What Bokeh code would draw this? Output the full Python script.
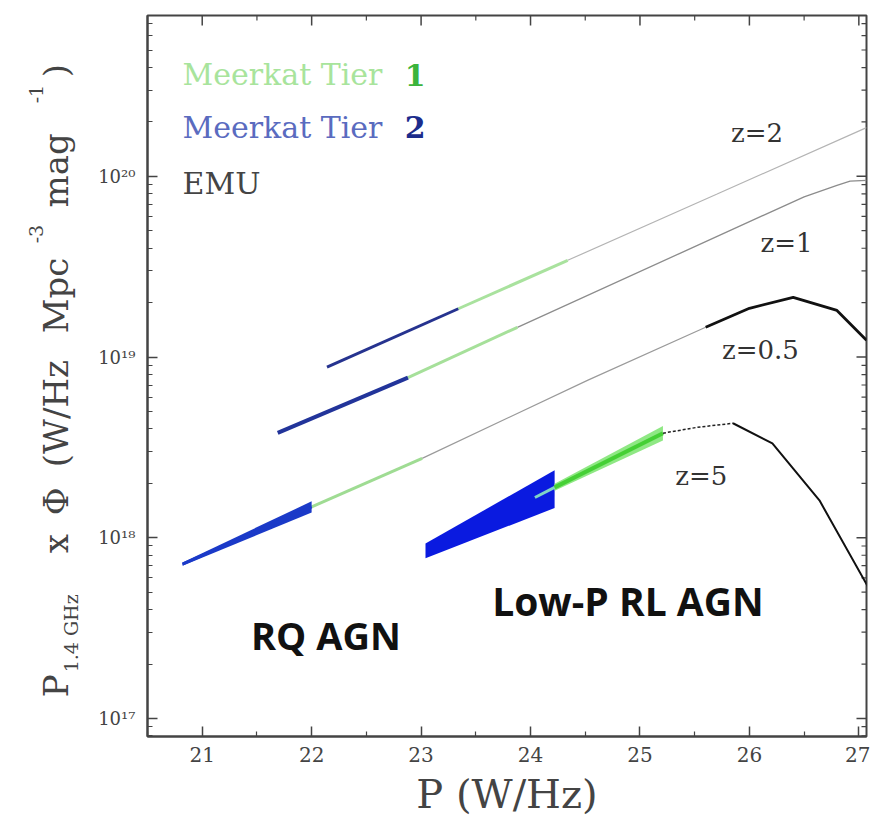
import numpy as np
from bokeh.plotting import figure
from bokeh.layouts import row
from bokeh.models import Range1d, FixedTicker, Label
from bokeh.core.properties import value
from bokeh.embed import file_html
from bokeh.resources import INLINE

# ---------------- data ----------------
x_ticks = [21, 22, 23, 24, 25, 26, 27]
x_tick_labels = ["21", "22", "23", "24", "25", "26", "27"]
y_ticks = [1e17, 1e18, 1e19, 1e20]
y_tick_labels = ["10\u00b9\u2077", "10\u00b9\u2078", "10\u00b9\u2079", "10\u00b2\u2070"]

# z = 2
z2_tier2_x = [22.14, 23.34]
z2_tier2_y = [8.8e18, 1.85e19]
z2_tier1_x = [23.34, 24.34]
z2_tier1_y = [1.85e19, 3.43e19]
z2_emu_x = [24.34, 25.7, 27.07]
z2_emu_y = [3.43e19, 7.96e19, 1.86e20]

# z = 1
z1_tier2_x = [21.69, 22.88]
z1_tier2_y = [3.8e18, 7.7e18]
z1_tier1_x = [22.88, 23.88]
z1_tier1_y = [7.7e18, 1.46e19]
z1_emu_x = [23.88, 25.37, 26.5, 26.8, 26.92, 27.07]
z1_emu_y = [1.46e19, 3.76e19, 7.7e19, 8.9e19, 9.4e19, 9.5e19]

# z = 0.5
z05_tier2_x = [20.82, 22.0]
z05_tier2_lo = [7.0e17, 1.38e18]
z05_tier2_hi = [7.3e17, 1.59e18]
z05_tier1_x = [22.0, 23.01]
z05_tier1_y = [1.48e18, 2.75e18]
z05_emu_x = [23.01, 24.52, 25.6]
z05_emu_y = [2.75e18, 7.43e18, 1.46e19]
z05_emu_dark_x = [25.6, 26.0, 26.4, 26.8, 27.07]
z05_emu_dark_y = [1.46e19, 1.86e19, 2.14e19, 1.81e19, 1.24e19]

# z = 5 (low-power RL AGN)
z5_tier2_x = [23.04, 24.22]
z5_tier2_lo = [7.7e17, 1.46e18]
z5_tier2_hi = [9.3e17, 2.36e18]
z5_overlap_x = [24.04, 24.22]
z5_overlap_y = [1.67e18, 1.90e18]
z5_tier1_x = [24.22, 25.21]
z5_tier1_y = [1.90e18, 3.79e18]
z5_tier1_lo = [1.82e18, 3.45e18]
z5_tier1_hi = [1.99e18, 4.15e18]
z5_emu_faint_x = [25.21, 25.52, 25.85]
z5_emu_faint_y = [3.79e18, 4.08e18, 4.30e18]
z5_emu_x = [25.85, 26.21, 26.64, 27.08]
z5_emu_y = [4.30e18, 3.33e18, 1.61e18, 5.4e17]

# y-axis title pieces (text, log10 position where the piece starts)
ytitle_main = ["P", "x", "\u03a6", "(W/Hz", "Mpc", "mag", ")"]
ytitle_main_at = [17.117, 17.914, 18.124, 18.39, 19.131, 19.828, 20.548]
ytitle_sub = ["1.4 GHz"]
ytitle_sub_at = [17.255]
ytitle_sup = ["-3", "-1"]
ytitle_sup_at = [19.629, 20.404]

# ---------------- figure ----------------
SERIF = "DejaVu Serif"
AX = "#444444"
X0, X1 = 20.5, 27.07
LY0, LY1 = 16.90, 20.89
FW, FH = 719, 721
LEFT_W = 85
TOP, BOTTOM = 15, 82

p = figure(x_range=Range1d(X0, X1), y_range=Range1d(10 ** LY0, 10 ** LY1),
           y_axis_type="log", frame_width=FW, frame_height=FH,
           min_border_left=147 - LEFT_W, min_border_right=4,
           min_border_top=TOP, min_border_bottom=BOTTOM,
           output_backend="svg", toolbar_location=None,
           background_fill_color="white", border_fill_color="white")
p.grid.visible = False
p.outline_line_color = AX
p.outline_line_width = 2

x_minor = [t - 0.5 for t in x_ticks] + [x_ticks[-1] + 0.5]
y_minor = [k * 10.0 ** e for e in range(16, 21) for k in range(2, 10)]


def style_axis(ax):
    ax.major_tick_in = 10
    ax.major_tick_out = 0
    ax.minor_tick_in = 5
    ax.minor_tick_out = 0
    ax.axis_line_color = AX
    ax.axis_line_width = 2
    ax.major_tick_line_color = AX
    ax.major_tick_line_width = 1.5
    ax.minor_tick_line_color = AX
    ax.minor_tick_line_width = 1.2
    ax.major_label_text_font = SERIF
    ax.major_label_text_color = "#444444"


xb = p.xaxis[0]
xb.ticker = FixedTicker(ticks=x_ticks, minor_ticks=x_minor)
xb.major_label_overrides = dict(zip(x_ticks, x_tick_labels))
style_axis(xb)
xb.major_label_text_font_size = "20px"
xb.major_label_standoff = 10
xb.axis_label = "P (W/Hz)"
xb.axis_label_text_font = SERIF
xb.axis_label_text_font_size = "40px"
xb.axis_label_text_font_style = "normal"
xb.axis_label_text_color = "#444444"
xb.axis_label_standoff = 6

yl = p.yaxis[0]
yl.ticker = FixedTicker(ticks=y_ticks, minor_ticks=y_minor)
yl.major_label_overrides = dict(zip(y_ticks, y_tick_labels))
style_axis(yl)
yl.major_label_text_font_size = "18px"
yl.major_label_standoff = 12

# ticks on the top and right sides of the box (inward)
dy_major, dy_minor = 10 / FH * (LY1 - LY0), 5 / FH * (LY1 - LY0)
dx_major, dx_minor = 10 / FW * (X1 - X0), 5 / FW * (X1 - X0)
top_major = [t for t in x_ticks if X0 < t < X1]
top_minor = [t for t in x_minor if X0 < t < X1]
p.segment(x0=top_major, y0=[10 ** LY1] * len(top_major), x1=top_major,
          y1=[10 ** (LY1 - dy_major)] * len(top_major), line_color=AX, line_width=1.5)
p.segment(x0=top_minor, y0=[10 ** LY1] * len(top_minor), x1=top_minor,
          y1=[10 ** (LY1 - dy_minor)] * len(top_minor), line_color=AX, line_width=1.2)
r_major = [t for t in y_ticks if 10 ** LY0 < t < 10 ** LY1]
r_minor = [t for t in y_minor if 10 ** LY0 < t < 10 ** LY1]
p.segment(x0=[X1] * len(r_major), y0=r_major, x1=[X1 - dx_major] * len(r_major),
          y1=r_major, line_color=AX, line_width=1.5)
p.segment(x0=[X1] * len(r_minor), y0=r_minor, x1=[X1 - dx_minor] * len(r_minor),
          y1=r_minor, line_color=AX, line_width=1.2)

# ---------------- curves ----------------
# z = 2
p.line(z2_emu_x, z2_emu_y, line_color="#b4b4b4", line_width=1.2)
p.line(z2_tier1_x, z2_tier1_y, line_color="#a9e29e", line_width=3)
p.line(z2_tier2_x, z2_tier2_y, line_color="#26338f", line_width=3)

# z = 1
p.line(z1_emu_x, z1_emu_y, line_color="#8c8c8c", line_width=1.3)
p.line(z1_tier1_x, z1_tier1_y, line_color="#a6e09a", line_width=3)
p.line(z1_tier2_x, z1_tier2_y, line_color="#22349a", line_width=4)

# z = 0.5
p.line(z05_emu_x, z05_emu_y, line_color="#9a9a9a", line_width=1.2)
p.line(z05_emu_dark_x, z05_emu_dark_y, line_color="#111111", line_width=2.8, line_join="round")
p.line(z05_tier1_x, z05_tier1_y, line_color="#9fdc93", line_width=3)
p.varea(x=z05_tier2_x, y1=z05_tier2_lo, y2=z05_tier2_hi, fill_color="#1b3ac8")
p.line(z05_tier2_x, [np.sqrt(a * b) for a, b in zip(z05_tier2_lo, z05_tier2_hi)],
       line_color="#1b3ac8", line_width=3)

# z = 5
p.line(z5_emu_faint_x, z5_emu_faint_y, line_color="#222222", line_width=1.5, line_dash="3 2")
p.line(z5_emu_x, z5_emu_y, line_color="#111111", line_width=2, line_join="round")
p.varea(x=z5_tier2_x, y1=z5_tier2_lo, y2=z5_tier2_hi, fill_color="#0a1ae0")
p.line(z5_overlap_x, z5_overlap_y, line_color="#7fd4c6", line_width=3)
p.varea(x=z5_tier1_x, y1=z5_tier1_lo, y2=z5_tier1_hi, fill_color="#8fe884")
p.line(z5_tier1_x, z5_tier1_y, line_color="#45d035", line_width=4)


# ---------------- annotations ----------------
def lab(x, y, text, size, color="#333333", font=SERIF, style="normal",
        align="center", baseline="middle"):
    p.add_layout(Label(x=x, y=y, text=text, text_font=font, text_font_size=size,
                       text_color=color, text_font_style=style, text_align=align,
                       text_baseline=baseline))


lab(26.07, 1.73e20, "z=2", "26px")
lab(26.34, 4.26e19, "z=1", "26px")
lab(26.10, 1.09e19, "z=0.5", "26px")
lab(25.56, 2.19e18, "z=5", "26px")

lab(22.13, 2.88e17, "RQ AGN", "38px", color="#111111", font="Open Sans", style="bold")
lab(24.89, 4.51e17, "Low-P RL AGN", "39px", color="#111111", font="Open Sans", style="bold")

# legend texts
lab(20.82, 3.66e20, "Meerkat Tier", "30px", color="#a8e49c", align="left")
lab(22.85, 3.66e20, "1", "30px", color="#3cb43c", align="left", style="bold")
lab(20.82, 1.87e20, "Meerkat Tier", "30px", color="#5a6bbf", align="left")
lab(22.85, 1.87e20, "2", "30px", color="#1c2c8c", align="left", style="bold")
lab(20.82, 9.15e19, "EMU", "30px", color="#444444", align="left")

# ---------------- y-axis title panel ----------------
left = figure(x_range=Range1d(0, LEFT_W), y_range=Range1d(10 ** LY0, 10 ** LY1),
              y_axis_type="log", frame_width=LEFT_W, frame_height=FH,
              min_border_left=0, min_border_right=0, min_border_top=TOP,
              min_border_bottom=BOTTOM, x_axis_location=None, y_axis_location=None,
              output_backend="svg", toolbar_location=None,
              background_fill_color="white", border_fill_color="white")
left.grid.visible = False
left.outline_line_color = None


def title_pieces(texts, at, xpix, size):
    left.text(x=[xpix] * len(texts), y=[10 ** a for a in at], text=texts,
              angle=np.pi / 2, text_font=value(SERIF), text_font_size=value(size),
              text_align="left", text_baseline="alphabetic", text_color="#444444")


title_pieces(ytitle_main, ytitle_main_at, 55, "34px")
title_pieces(ytitle_sub, ytitle_sub_at, 70, "19px")
title_pieces(ytitle_sup, ytitle_sup_at, 35, "19px")

layout = row(left, p, spacing=0)
open("out.html", "w").write(file_html(layout, INLINE))
